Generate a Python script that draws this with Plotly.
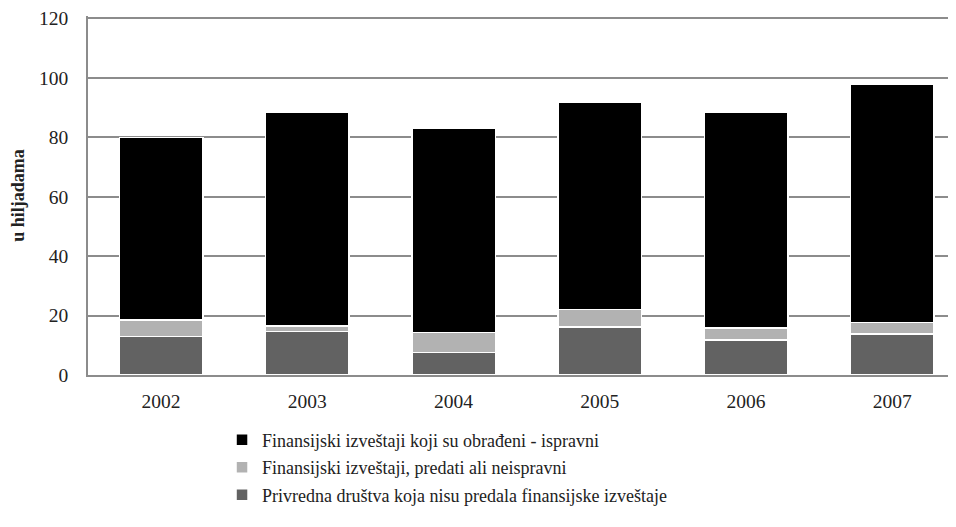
import plotly.graph_objects as go

years = ['2002', '2003', '2004', '2005', '2006', '2007']
nisu_predala = [13.0, 14.6, 7.5, 16.2, 11.8, 13.8]
neispravni = [5.5, 1.9, 6.8, 5.9, 4.1, 3.8]
ispravni = [61.5, 72.0, 68.8, 69.7, 72.6, 80.3]

# (name, values, colour, legend rank) - stacked bottom to top
series = [
    ('Privredna društva koja nisu predala finansijske izveštaje', nisu_predala, '#626262', 3),
    ('Finansijski izveštaji, predati ali neispravni', neispravni, '#b2b2b2', 2),
    ('Finansijski izveštaji koji su obrađeni - ispravni', ispravni, '#000000', 1),
]

font = 'Liberation Serif, Times New Roman, serif'

fig = go.Figure()
for name, vals, color, rank in series:
    fig.add_trace(go.Bar(
        x=years, y=vals, name=name, legendgroup=name, legendrank=rank,
        marker=dict(color=color, line=dict(color='white', width=1.5)),
        width=0.57,
    ))

fig.update_layout(
    barmode='stack',
    width=956, height=527,
    margin=dict(l=80, r=0, t=8, b=160),
    paper_bgcolor='white', plot_bgcolor='white',
    font=dict(family=font, size=19, color='#222222'),
    xaxis=dict(range=[-0.5, 5.49], showline=True, linecolor='#8c8c8c', linewidth=1.5,
               ticks='outside', ticklen=8, tickcolor='rgba(0,0,0,0)', showgrid=False,
               tickfont=dict(family=font, size=19.5, color='#222222'), automargin=False),
    yaxis=dict(range=[0, 120.8], tickvals=[0, 20, 40, 60, 80, 100, 120],
               showline=True, linecolor='#8c8c8c', linewidth=1.5,
               gridcolor='#8c8c8c', gridwidth=1.5, ticks='outside', ticklen=14,
               tickcolor='rgba(0,0,0,0)', zeroline=False, automargin=False,
               tickfont=dict(family=font, size=19.5, color='#222222'),
               title=dict(text='<b>u hiljadama</b>', font=dict(family=font, size=18, color='#222222'),
                          standoff=12)),
    legend=dict(orientation='v', x=0.153, xanchor='left', y=-0.13, yanchor='top',
                traceorder='grouped', tracegroupgap=1,
                font=dict(family=font, size=18, color='#222222'), itemwidth=30),
    showlegend=True,
)

fig.write_html('out.html')
